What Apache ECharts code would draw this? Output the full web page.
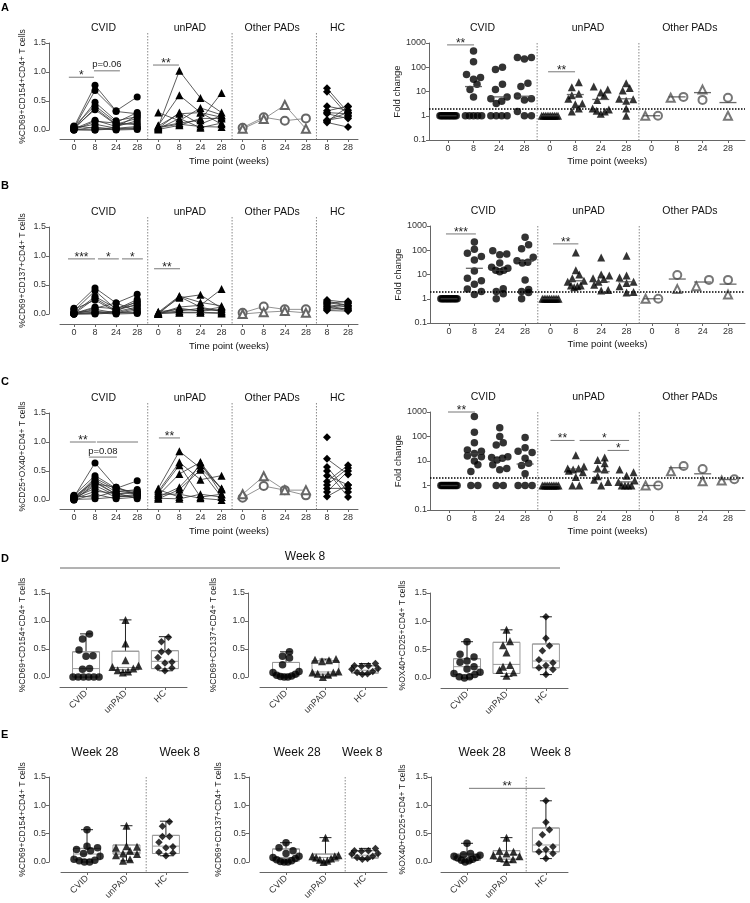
<!DOCTYPE html>
<html><head><meta charset="utf-8">
<script src="https://cdn.jsdelivr.net/npm/echarts@6/dist/echarts.min.js"></script>
<style>html,body{margin:0;padding:0;background:#fff}#c{width:750px;height:903px}</style>
</head><body><div id="c"></div>
<script>
// ---------------- categories / labels ----------------
const leftCats = ['0','8','24','28','0','8','24','28','0','8','24','28','8','28'];
const rightCats = ['0','8','24','28','0','8','24','28','0','8','24','28'];
const boxCats = ['CVID','unPAD','HC'];
const leftGroups = ['CVID','unPAD','Other PADs','HC'];
const rightGroups = ['CVID','unPAD','Other PADs'];

// ---------------- Panel A (CD69+CD154+) per-subject values at weeks 0,8,24,28 ----------------
const A_cvid = [
 [0.05,0.77,0.33,0.57],[0.03,0.68,0.32,0.28],[0.02,0.48,0.16,0.23],[0.06,0.42,0.13,0.30],
 [0.01,0.38,0.10,0.20],[0.04,0.35,0.09,0.12],[0.02,0.17,0.06,0.16],[0.00,0.15,0.12,0.09],
 [0.03,0.10,0.03,0.06],[0.00,0.05,0.01,0.03],[0.07,0.03,0.00,0.01],[0.01,0.00,0.02,0.04],[0.00,0.00,0.05,0.25]];
const A_unpad = [
 [0.06,1.02,0.55,0.30],[0.08,0.60,0.30,0.22],[0.30,0.16,0.38,0.26],[0.05,0.12,0.17,0.64],
 [0.03,0.30,0.10,0.25],[0.02,0.20,0.04,0.12],[0.04,0.10,0.06,0.05],[0.01,0.08,0.20,0.20],[0.07,0.28,0.30,0.10]];
const A_other_circle = [0.04,0.22,0.16,0.20];
const A_other_tri = [0.02,0.19,0.43,0.02];
const A_hc = [[0.72,0.30],[0.66,0.25],[0.41,0.34],[0.33,0.41],[0.30,0.28],[0.28,0.20],[0.17,0.23],[0.15,0.40],[0.13,0.05],[0.17,0.30]];

// ---------------- Panel B (CD69+CD137+) ----------------
const B_cvid = [
 [0.10,0.45,0.19,0.34],[0.05,0.40,0.08,0.25],[0.02,0.30,0.10,0.20],[0.00,0.27,0.06,0.17],
 [0.08,0.24,0.04,0.12],[0.01,0.10,0.19,0.05],[0.00,0.08,0.02,0.10],[0.03,0.05,0.01,0.07],
 [0.00,0.03,0.03,0.03],[0.02,0.02,0.00,0.01],[0.00,0.01,0.05,0.22],[0.01,0.12,0.09,0.15],[0.00,0.00,0.02,0.02]];
const B_unpad = [
 [0.03,0.31,0.20,0.14],[0.02,0.28,0.33,0.10],[0.01,0.12,0.15,0.43],[0.00,0.10,0.05,0.08],
 [0.02,0.05,0.10,0.05],[0.01,0.03,0.03,0.02],[0.04,0.08,0.06,0.12],[0.00,0.30,0.12,0.04],[0.01,0.02,0.02,0.01]];
const B_other_circle = [0.02,0.13,0.08,0.08];
const B_other_tri = [0.00,0.03,0.05,0.02];
const B_hc = [[0.24,0.20],[0.22,0.15],[0.18,0.22],[0.16,0.12],[0.14,0.08],[0.10,0.18],[0.08,0.10],[0.06,0.05],[0.20,0.14],[0.12,0.06]];

// ---------------- Panel C (CD25+OX40+) ----------------
const C_cvid = [
 [0.05,0.64,0.22,0.10],[0.08,0.42,0.20,0.33],[0.03,0.38,0.18,0.15],[0.02,0.35,0.14,0.18],
 [0.06,0.32,0.10,0.12],[0.00,0.28,0.22,0.08],[0.01,0.25,0.08,0.05],[0.04,0.20,0.05,0.10],
 [0.02,0.15,0.12,0.02],[0.00,0.10,0.02,0.05],[0.07,0.05,0.15,0.12],[0.01,0.02,0.05,0.08],[0.03,0.30,0.10,0.15]];
const C_unpad = [
 [0.20,0.84,0.55,0.20],[0.15,0.65,0.35,0.42],[0.12,0.60,0.05,0.10],[0.08,0.45,0.65,0.18],
 [0.05,0.22,0.60,0.20],[0.02,0.18,0.52,0.05],[0.10,0.10,0.03,0.00],[0.18,0.05,0.65,0.10],[0.03,0.02,0.10,0.05]];
const C_other_circle = [0.04,0.24,0.17,0.08];
const C_other_tri = [0.10,0.41,0.17,0.17];
const C_hc = [[1.08,null],[0.71,0.44],[0.57,0.14],[0.50,0.05],[0.42,0.26],[0.32,0.60],[0.26,0.55],[0.20,0.20],[0.14,0.50],[0.06,0.26]];

// ---------------- Fold change (per time point 0,8,24,28) ----------------
const A_fc_cvid = [
 [1,1,1,1,1,1,1,1,1,1,1,1,1],
 [470,170,50,38,32,20,12,6,1,1,1,1,1],
 [100,80,20,12,6,5,4,3.2,1,1,1,1],
 [220,250,250,22,16,6.5,5,4.5,1.5,1,1]];
const A_fc_unpad = [
 [1,1,1,1,1,1,1,1,1,1],
 [24,15,8,7,5,3.2,3,2,1.5],
 [16,12,9,7,4.5,2,1.8,1.6,1.5,1.2],
 [22,14,11,5,4.8,4.2,2,1]];
const A_fc_other_circle = [1,6,4.5,5.5];
const A_fc_other_tri = [1,5.5,12,1];
const A_fc_median = [1,16,6,6.4, 1,7.5,4.7,5, 1,6,9,3.5];

const B_fc_cvid = [
 [1,1,1,1,1,1,1,1,1,1,1,1,1],
 [220,110,75,55,40,14,7,5.5,4,2.5,2,1.5],
 [95,70,65,30,20,18,15,15,13,2.6,2,1.6,1],
 [340,170,115,52,37,32,30,6,2.4,2,1.8,1]];
const B_fc_unpad = [
 [1,1,1,1,1,1,1,1,1,1],
 [80,15,10,7,5.5,5,3.5,3.5,3.3,3],
 [50,10,9,7,6.5,5,3.8,2.3,2.2],
 [60,9,7.5,5,4.5,3.3,1.9,1.8]];
const B_fc_other_circle = [1,9.5,6,6];
const B_fc_other_tri = [1,2.5,3.3,1.5];
const B_fc_median = [1,18,15,35, 1,5.5,5,5, 1,6.5,4.9,4];

const C_fc_cvid = [
 [1,1,1,1,1,1,1,1,1,1,1,1,1],
 [650,150,55,28,25,20,16,15,10,7,3.7,1,1],
 [230,100,55,45,15,14,13,11,7,5,4.4,1,1],
 [90,35,25,22,13,8,6.5,3,1,1,1]];
const C_fc_unpad = [
 [1,1,1,1,1,1,1,1,1,1],
 [17,6,5,5,4.5,4,3.5,2.2,1,1],
 [14,11,8,5,4.5,2.4,1.7,1.4,1],
 [4.5,3.5,2.5,1.6,1.4,1,1,1,1]];
const C_fc_other_circle = [1,6.3,4.7,1.8];
const C_fc_other_tri = [1,3.8,1.5,1.6];
const C_fc_median = [1,20,12,7.5, 1,4.7,3.7,1.4, 1,5.3,3,1.75];

// ---------------- D: week 8 box plots  (box = [min,Q1,median,Q3,max]) ----------------
const D1_cvid = [0.77,0.68,0.48,0.38,0.37,0.15,0.14,0,0,0,0,0,0];
const D1_unpad = [1.02,0.6,0.3,0.2,0.18,0.15,0.12,0.1,0.08];
const D1_hc = [0.71,0.63,0.45,0.45,0.35,0.27,0.25,0.17,0.16,0.11];
const D1_box = [[0,0,0.15,0.45,0.77],[0.08,0.13,0.17,0.46,1.02],[0.11,0.15,0.28,0.47,0.72]];
const D2_cvid = [0.45,0.37,0.34,0.22,0.1,0.08,0.05,0.03,0.02,0.01,0,0];
const D2_unpad = [0.32,0.31,0.3,0.28,0.1,0.08,0.08,0.06,0.04,0];
const D2_hc = [0.24,0.2,0.2,0.19,0.15,0.14,0.1,0.08,0.06,0.05];
const D2_box = [[0,0.02,0.05,0.26,0.45],[0,0.05,0.09,0.29,0.32],[0.05,0.07,0.12,0.2,0.24]];
const D3_cvid = [0.64,0.42,0.37,0.3,0.28,0.2,0.16,0.1,0.08,0.06,0.02,0.02,0];
const D3_unpad = [0.85,0.65,0.58,0.45,0.23,0.2,0.14,0.1,0.04];
const D3_hc = [1.08,0.7,0.57,0.48,0.32,0.27,0.22,0.18,0.15,0.06];
const D3_box = [[0,0.06,0.2,0.34,0.64],[0.03,0.08,0.24,0.63,0.85],[0.06,0.18,0.3,0.6,1.08]];

// ---------------- E: week 28 (CVID, unPAD) vs week 8 (HC) ----------------
const E1_cvid = [0.57,0.28,0.25,0.22,0.2,0.15,0.1,0.05,0.03,0.02,0,0];
const E1_unpad = [0.64,0.28,0.27,0.25,0.2,0.15,0.14,0.12,0.05,0.02];
const E1_hc = [0.71,0.63,0.45,0.45,0.35,0.27,0.25,0.17,0.16,0.11];
const E1_box = [[0,0.04,0.14,0.24,0.57],[0.02,0.14,0.17,0.3,0.64],[0.11,0.15,0.28,0.47,0.72]];
const E2_cvid = [0.34,0.25,0.2,0.15,0.1,0.08,0.06,0.04,0.02,0.01,0,0];
const E2_unpad = [0.43,0.12,0.1,0.1,0.08,0.06,0.04,0.02,0];
const E2_hc = [0.24,0.2,0.2,0.19,0.15,0.14,0.1,0.08,0.06,0.05];
const E2_box = [[0,0.02,0.08,0.23,0.34],[0,0.02,0.08,0.14,0.43],[0.05,0.07,0.12,0.2,0.24]];
const E3_cvid = [0.33,0.15,0.13,0.12,0.1,0.08,0.07,0.05,0.03,0.02,0];
const E3_unpad = [0.43,0.2,0.18,0.15,0.12,0.1,0.07,0.05,0];
const E3_hc = [1.08,0.7,0.57,0.48,0.32,0.27,0.22,0.18,0.15,0.06];
const E3_box = [[0,0.03,0.09,0.14,0.33],[0,0.05,0.13,0.2,0.43],[0.06,0.18,0.3,0.6,1.08]];

// ---------------- significance annotations [x from, x to, y, label] (data coords) ----------------
const A_left_sig = [[-0.24,0.95,0.91,'*'],[0.95,2.18,1.02,'p=0.06'],[3.75,4.98,1.12,'**']];
const A_right_sig = [[-0.04,1.02,835,'**'],[3.93,4.99,65,'**']];
const B_left_sig = [[-0.28,1.0,0.95,'***'],[1.14,2.13,0.95,'*'],[2.28,3.27,0.95,'*'],[3.8,5.03,0.78,'**']];
const B_right_sig = [[-0.12,1.06,470,'***'],[4.1,5.1,183,'**']];
const C_left_sig = [[-0.19,1.04,1.0,'**'],[1.09,3.04,1.0,''],[0.71,2.04,0.74,'p=0.08'],[4.03,5.03,1.07,'**']];
const C_right_sig = [[-0.04,1.02,1000,'**'],[4.0,4.95,69,'**'],[5.15,7.1,69,'*'],[6.25,7.1,27,'*']];
const E3_sig = [[0.05,1.98,1.3,'**']];

// ================= layout =================
const FONT = '"Liberation Sans", Arial, Helvetica, sans-serif';
const AX = '#666', TXT = '#333';
const L = (top, xoff) => ({left:60, top, width:298, height:87, xmin:-0.66, xmax:13.47, yoff:11, xoff, nameGap:22});
const R = (top, left, h) => ({left, top, width:745-left, height:h, xmin:-0.75, xmax:11.67, nameGap:22});
const Bx = (left, top, h, yoff, nameGap) => ({left, top, width:127, height:h, xmin:-0.66, xmax:2.56, yoff, xoff:10, nameGap, rot:45});
const G = {
  Al: L(43, 9), Bl: L(227, 10), Cl: L(413, 9),
  Ar: R(43, 429, 97), Br: R(226, 430, 97), Cr: R(412, 430, 98),
  D1: Bx(60, 593, 84, 11, 22), D2: Bx(260, 593, 84, 12, 30), D3: Bx(441, 593, 85, 11, 23),
  E1: Bx(61, 777, 85, 12, 22), E2: Bx(260, 777, 85, 11, 26), E3: Bx(441, 777, 85, 10, 24)
};

const grid = [], xAxis = [], yAxis = [], series = [];
function addGrid(g){ g.gi = grid.length; grid.push({left:g.left, top:g.top, width:g.width, height:g.height}); }
function addXAxis(g, cats){
  const vals = cats.map((_, i) => i);
  g.xi = xAxis.length;
  xAxis.push({gridIndex:g.gi, type:'value', min:g.xmin, max:g.xmax, offset:g.xoff||0,
    axisLine:{show:true, onZero:false, lineStyle:{color:AX, width:1}},
    axisTick:{show:true, customValues:vals, length:3, lineStyle:{color:AX}},
    axisLabel:{show:true, customValues:vals, formatter:v => cats[Math.round(v)] || '', fontSize:9, color:TXT, fontFamily:FONT, margin:g.rot?5:4, rotate:g.rot||0},
    splitLine:{show:false}});
}
function addLinY(g, name){
  g.yi = yAxis.length;
  yAxis.push({gridIndex:g.gi, type:'value', min:0, max:1.5, interval:0.5, offset:g.yoff||0,
    axisLine:{show:true, onZero:false, lineStyle:{color:AX}}, axisTick:{show:true, length:3, lineStyle:{color:AX}},
    axisLabel:{formatter:v => v.toFixed(1), fontSize:9, color:TXT, fontFamily:FONT, margin:3},
    splitLine:{show:false}, name, nameLocation:'middle', nameGap:g.nameGap, nameRotate:90,
    nameTextStyle:{fontSize:8.5, color:'#222', fontFamily:FONT}});
}
function addLogY(g, name){
  g.yi = yAxis.length;
  yAxis.push({gridIndex:g.gi, type:'log', logBase:10, min:0.1, max:1000,
    axisLine:{show:true, onZero:false, lineStyle:{color:AX}}, axisTick:{show:true, length:3, lineStyle:{color:AX}},
    axisLabel:{formatter:v => String(Number(Number(v).toPrecision(3))), fontSize:9, color:TXT, fontFamily:FONT, margin:3},
    splitLine:{show:false}, minorTick:{show:false}, name, nameLocation:'middle', nameGap:g.nameGap, nameRotate:90,
    nameTextStyle:{fontSize:9.5, color:'#222', fontFamily:FONT}});
}

// symmetric row-based beeswarm offsets (in axis units); lowest value of a row sits in the centre
function rowSwarm(vals, toPx, unitPx, d, maxHalf){
  const off = vals.map(() => 0);
  const order = vals.map((_, i) => i).filter(i => vals[i] != null).sort((a, b) => toPx(vals[a]) - toPx(vals[b]));
  let row = [];
  const flush = () => {
    const n = row.length;
    let step = d;
    if (n > 1 && (n - 1) / 2 * step > maxHalf * unitPx) step = maxHalf * unitPx * 2 / (n - 1);
    const mid = Math.floor((n - 1) / 2), slots = [mid];
    for (let k = 1; slots.length < n; k++) { if (mid + k < n) slots.push(mid + k); if (mid - k >= 0) slots.push(mid - k); }
    row.forEach((i, j) => { off[i] = (slots[j] - (n - 1) / 2) * step / unitPx; });
    row = [];
  };
  for (const i of order) {
    if (row.length && Math.abs(toPx(vals[i]) - toPx(vals[row[0]])) >= d) flush();
    row.push(i);
  }
  if (row.length) flush();
  return off;
}
const logPx = v => Math.log10(v) * 24.5;
const linPx = v => v * 56;

function linePanel(g, cvid, unpad, oc, ot, hc){
  const base = {type:'line', xAxisIndex:g.xi, yAxisIndex:g.yi, silent:true, clip:false, z:3,
    lineStyle:{color:'#333', width:0.8}, itemStyle:{color:'#000'}};
  const mk = (s, start) => s.map((v, k) => [start + k, v]).filter(p => p[1] != null);
  cvid.forEach(s => series.push({...base, data:mk(s, 0), symbol:'circle', symbolSize:7}));
  unpad.forEach(s => series.push({...base, data:mk(s, 4), symbol:'triangle', symbolSize:8}));
  const open = {...base, itemStyle:{color:'#666', borderWidth:1}, lineStyle:{color:'#777', width:0.8}, symbolSize:8};
  series.push({...open, data:mk(oc, 8), symbol:'emptyCircle'});
  series.push({...open, data:mk(ot, 8), symbol:'emptyTriangle'});
  hc.forEach(s => series.push({...base, data:mk(s, 12), symbol:'diamond', symbolSize:8}));
}

function fcPanel(g, cvid, unpad, oc, ot, med){
  const U = g.width / (g.xmax - g.xmin);
  const pts = (groups, start) => {
    const out = [];
    groups.forEach((vals, k) => {
      const off = rowSwarm(vals, logPx, U, 7, 0.32);
      vals.forEach((v, j) => out.push([start + k + off[j], v]));
    });
    return out;
  };
  const sc = {type:'scatter', xAxisIndex:g.xi, yAxisIndex:g.yi, silent:true, clip:false, z:3};
  series.push({...sc, data:pts(cvid, 0), symbol:'circle', symbolSize:7.5, itemStyle:{color:'#000'}});
  series.push({...sc, data:pts(unpad, 4), symbol:'triangle', symbolSize:8, itemStyle:{color:'#000'}});
  const triPts = [], cirPts = [];
  oc.forEach((c, k) => {
    const t = ot[k];
    const o = Math.abs(logPx(c) - logPx(t)) < 8 ? 0.25 : 0;
    triPts.push([8 + k - o, t]); cirPts.push([8 + k + o, c]);
  });
  series.push({...sc, data:triPts, symbol:'emptyTriangle', symbolSize:8, itemStyle:{color:'#555', borderWidth:1}});
  series.push({...sc, data:cirPts, symbol:'emptyCircle', symbolSize:8, itemStyle:{color:'#555', borderWidth:1}});
  series.push({...sc, z:4, data:med.map((m, i) => [i, m]), symbol:'rect', symbolSize:[17, 1.3], itemStyle:{color:'#444'},
    markLine:{silent:true, symbol:['none','none'], label:{show:false}, animation:false,
      lineStyle:{color:'#000', type:'dotted', width:1.5}, data:[{yAxis:2}]}});
}

function boxPanel(g, groups, boxes){
  const U = g.width / (g.xmax - g.xmin);
  const syms = ['circle', 'triangle', 'diamond'];
  const xi2 = xAxis.length;
  xAxis.push({gridIndex:g.gi, type:'value', min:g.xmin, max:g.xmax, show:false, position:'bottom'});
  const bp = {type:'boxplot', yAxisIndex:g.yi, silent:true};
  series.push({...bp, xAxisIndex:xi2, z:1, boxWidth:[12,12], itemStyle:{color:'#fff', borderColor:'#222', borderWidth:1},
    data:boxes.map((b, k) => [k, b[0], b[2], b[2], b[2], b[4]])});
  series.push({...bp, xAxisIndex:g.xi, z:2, boxWidth:[27,27], itemStyle:{color:'#fff', borderColor:'#999', borderWidth:1},
    data:boxes.map((b, k) => [k, b[1], b[1], b[2], b[3], b[3]])});
  groups.forEach((vals, k) => {
    const off = rowSwarm(vals, linPx, U, 7, 0.33);
    series.push({type:'scatter', xAxisIndex:g.xi, yAxisIndex:g.yi, silent:true, clip:false, z:3,
      symbol:syms[k], symbolSize:syms[k] === 'triangle' ? 8 : 7.5, itemStyle:{color:'#000'},
      data:vals.map((v, j) => [k + off[j], v])});
  });
}

// build panels
const yA = '%CD69+CD154+CD4+ T cells', yB = '%CD69+CD137+CD4+ T cells', yC = '%CD25+OX40+CD4+ T cells', yOX = '%OX40+CD25+CD4+ T cells';
[['Al', yA, A_cvid, A_unpad, A_other_circle, A_other_tri, A_hc],
 ['Bl', yB, B_cvid, B_unpad, B_other_circle, B_other_tri, B_hc],
 ['Cl', yC, C_cvid, C_unpad, C_other_circle, C_other_tri, C_hc]].forEach(([k, nm, a, b, c, d, e]) => {
  const g = G[k]; addGrid(g); addXAxis(g, leftCats); addLinY(g, nm); linePanel(g, a, b, c, d, e);
});
[['Ar', A_fc_cvid, A_fc_unpad, A_fc_other_circle, A_fc_other_tri, A_fc_median],
 ['Br', B_fc_cvid, B_fc_unpad, B_fc_other_circle, B_fc_other_tri, B_fc_median],
 ['Cr', C_fc_cvid, C_fc_unpad, C_fc_other_circle, C_fc_other_tri, C_fc_median]].forEach(([k, a, b, c, d, m]) => {
  const g = G[k]; addGrid(g); addXAxis(g, rightCats); addLogY(g, 'Fold change'); fcPanel(g, a, b, c, d, m);
});
[['D1', yA, [D1_cvid, D1_unpad, D1_hc], D1_box], ['D2', yB, [D2_cvid, D2_unpad, D2_hc], D2_box], ['D3', yOX, [D3_cvid, D3_unpad, D3_hc], D3_box],
 ['E1', yA, [E1_cvid, E1_unpad, E1_hc], E1_box], ['E2', yB, [E2_cvid, E2_unpad, E2_hc], E2_box], ['E3', yOX, [E3_cvid, E3_unpad, E3_hc], E3_box]]
 .forEach(([k, nm, grp, bx]) => { const g = G[k]; addGrid(g); addXAxis(g, boxCats); addLinY(g, nm); boxPanel(g, grp, bx); });

const chart = echarts.init(document.getElementById('c'), null, {renderer:'canvas'});
chart.setOption({animation:false, textStyle:{fontFamily:FONT}, grid, xAxis, yAxis, series});

// ================= annotations =================
const gfx = [];
const px = (g, x, y) => chart.convertToPixel({xAxisIndex:g.xi, yAxisIndex:g.yi}, [x, y]);
function text(x, y, t, o = {}){
  gfx.push({type:'text', x, y, silent:true, z:100, style:{text:t, fill:o.color || '#111', fontSize:o.fs || 10.5, fontFamily:FONT,
    fontWeight:o.fw || 'normal', align:o.align || 'center', textAlign:o.align || 'center',
    verticalAlign:o.va || 'middle', textVerticalAlign:o.va || 'middle'}});
}
function line(x1, y1, x2, y2, o = {}){
  gfx.push({type:'line', silent:true, z:100, shape:{x1, y1, x2, y2}, style:{stroke:o.color || '#777', lineWidth:o.w || 1, lineDash:o.dash || null}});
}
function sigs(g, list){
  list.forEach(([a, b, y, t]) => {
    const p1 = px(g, a, y), p2 = px(g, b, y);
    line(p1[0], p1[1], p2[0], p1[1], {color:'#777'});
    if (!t) return;
    if (t[0] === 'p') text((p1[0] + p2[0]) / 2, p1[1] - 1, t, {fs:9.5, va:'bottom', color:'#222'});
    else text((p1[0] + p2[0]) / 2, p1[1] - 1.5, t, {fs:12, color:'#222'});
  });
}
const dotted = {color:'#888', dash:[1.5, 1.5]};
['Al', 'Bl', 'Cl'].forEach(k => {
  const g = G[k]; const axY = g.top + g.height + g.xoff;
  [3.5, 7.5, 11.5].forEach(x => { const p = px(g, x, 1); line(p[0], g.top - 10, p[0], axY, dotted); });
  [1.4, 5.5, 9.4, 12.5].forEach((x, i) => text(px(g, x, 1)[0], g.top - 15, leftGroups[i], {fs:10.5}));
  text(px(g, 7.35, 1)[0], axY + 22, 'Time point (weeks)', {fs:9.5});
});
['Ar', 'Br', 'Cr'].forEach(k => {
  const g = G[k]; const axY = g.top + g.height;
  [3.5, 7.5].forEach(x => { const p = px(g, x, 1); line(p[0], g.top, p[0], axY, dotted); });
  [1.35, 5.5, 9.5].forEach((x, i) => text(px(g, x, 1)[0], g.top - 15, rightGroups[i], {fs:10.5}));
  text(px(g, 6.25, 1)[0], axY + 21, 'Time point (weeks)', {fs:9.5});
});
sigs(G.Al, A_left_sig); sigs(G.Ar, A_right_sig);
sigs(G.Bl, B_left_sig); sigs(G.Br, B_right_sig);
sigs(G.Cl, C_left_sig); sigs(G.Cr, C_right_sig);
text(305, 557, 'Week 8', {fs:12});
line(60, 568, 560, 568, {color:'#666'});
[['E1', 0.2, 2.35], ['E2', 0.28, 1.93], ['E3', 0.38, 2.12]].forEach(([k, a, b]) => {
  const g = G[k];
  text(px(g, a, 1)[0], g.top - 24, 'Week 28', {fs:12});
  text(px(g, b, 1)[0], g.top - 24, 'Week 8', {fs:12});
  const p = px(g, 1.5, 1);
  line(p[0], g.top, p[0], g.top + g.height + g.xoff, dotted);
});
sigs(G.E3, E3_sig);
[['A', 8], ['B', 186], ['C', 382], ['D', 559], ['E', 735]].forEach(([t, y]) => text(1, y, t, {fs:11, fw:'bold', align:'left', color:'#000'}));

chart.setOption({graphic:gfx});
</script></body></html>
